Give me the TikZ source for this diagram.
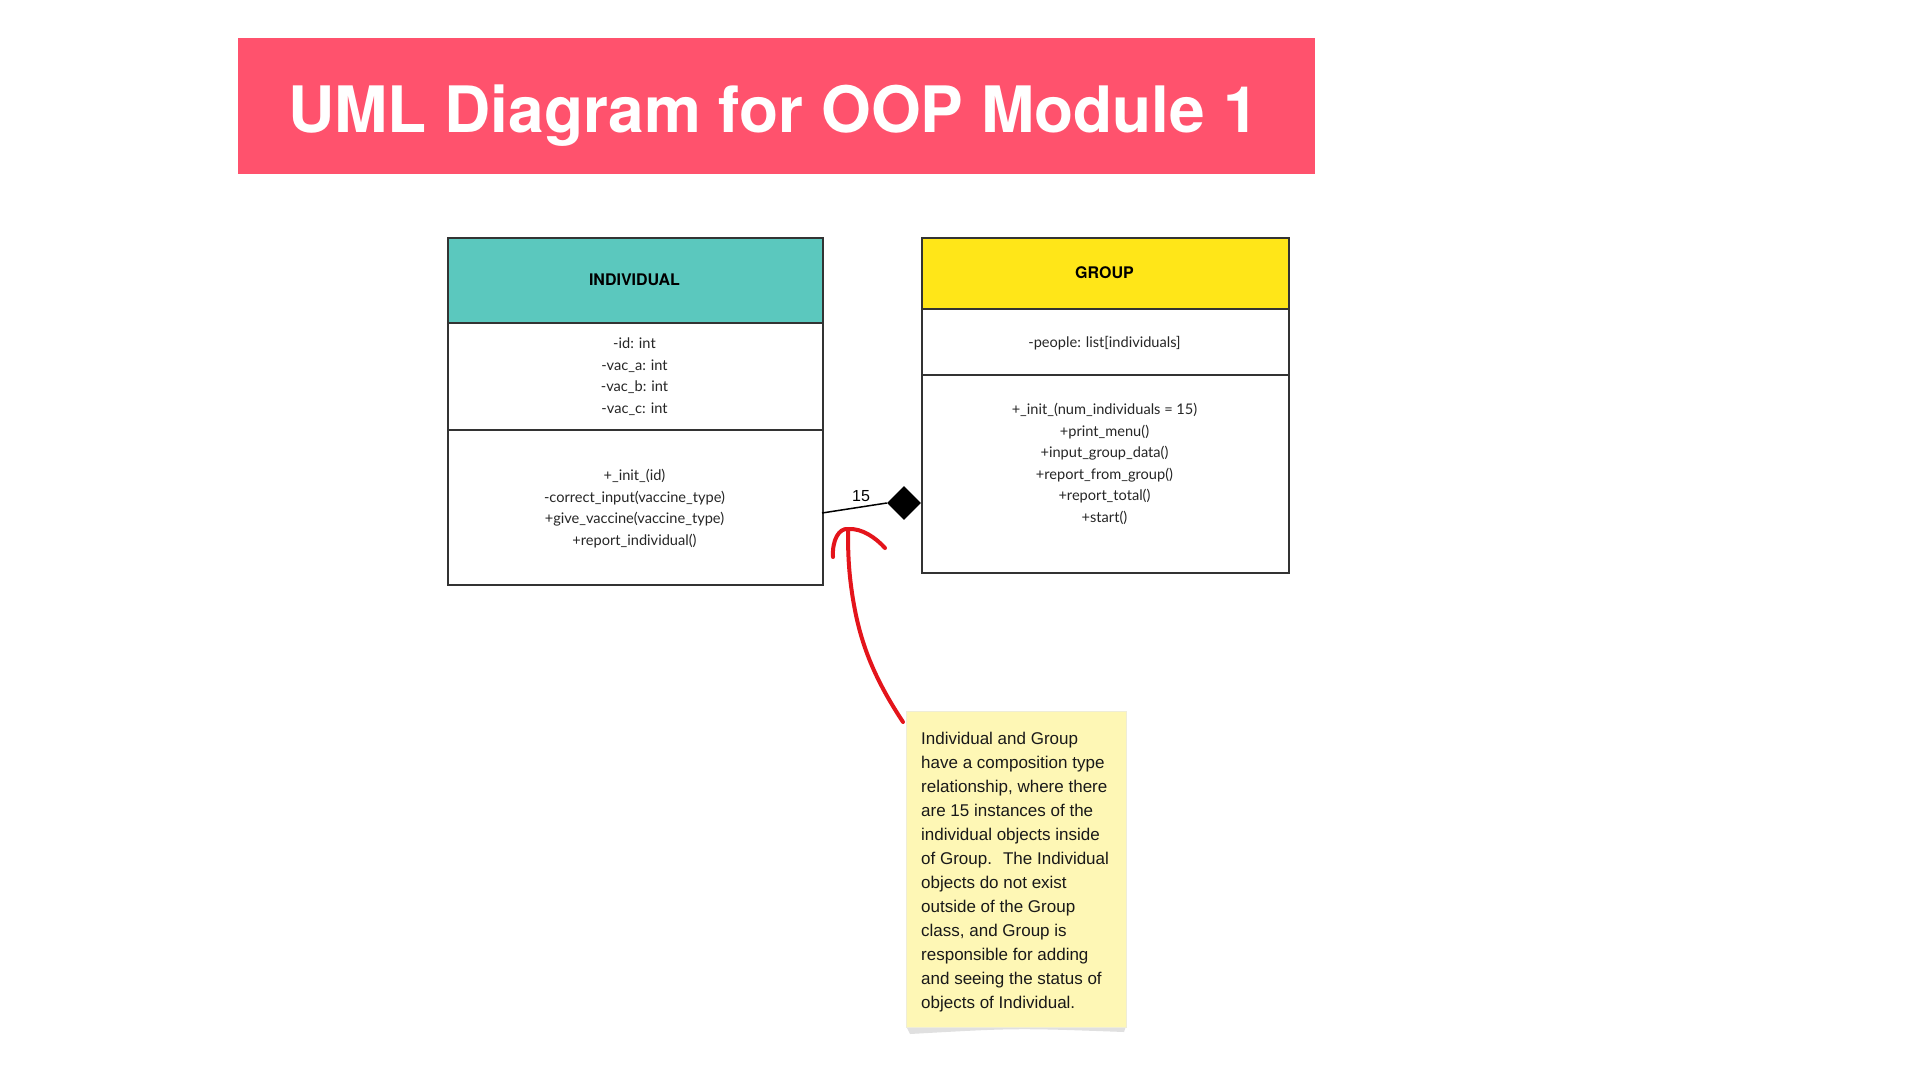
\documentclass[tikz,border=0pt]{standalone}
\usepackage{fontspec}
\setmainfont{Liberation Sans}
\newfontfamily\titlefont{TeX Gyre Heros}
\newfontfamily\bodyfont{Lato}
\usetikzlibrary{shapes.geometric}
\definecolor{bannerred}{HTML}{FF526D}
\definecolor{headteal}{HTML}{5BC8BE}
\definecolor{headyellow}{HTML}{FFE618}
\definecolor{noteyellow}{HTML}{FEF7B5}
\definecolor{arrowred}{HTML}{E4141B}
\definecolor{boxline}{HTML}{333333}
\begin{document}
\begin{tikzpicture}[x=1pt,y=-1pt,
  box/.style={draw=boxline, line width=1.5pt, rectangle, inner sep=0pt, anchor=north west},
  classname/.style={font=\titlefont\bfseries\fontsize{16}{16}\selectfont, text=black, inner sep=0pt},
  members/.style={font=\bodyfont\fontsize{14.6}{21.5}\selectfont, align=center, text=black!85, inner sep=0pt},
  redpen/.style={draw=arrowred, line width=4pt, line cap=round, line join=round}]
\useasboundingbox (0,0) rectangle (1920,1080);
\fill[white] (0,0) rectangle (1920,1080);

% title banner
\node[fill=bannerred, anchor=north west, minimum width=1077.5, minimum height=136, inner sep=0pt] (banner) at (237.5,38) {};
\node[font=\titlefont\bfseries\fontsize{64}{64}\selectfont, text=white, anchor=base, inner sep=0pt] (title) at (773.5,132) {UML Diagram for OOP Module 1};

% INDIVIDUAL class
\node[box, fill=headteal, minimum width=375, minimum height=85] (ihead) at (447,237) {};
\node[box, fill=white, minimum width=375, minimum height=107] (iattr) at (447,322) {};
\node[box, fill=white, minimum width=375, minimum height=155] (imeth) at (447,429) {};
\node[classname] (iname) at (634.5,280) {INDIVIDUAL};
\node[members] (iattrtxt) at (634.5,376.5) {-id: int\\-vac\_a: int\\-vac\_b: int\\-vac\_c: int};
\node[members] (imethtxt) at (634.5,508.5) {+\_init\_(id)\\-correct\_input(vaccine\_type)\\+give\_vaccine(vaccine\_type)\\+report\_individual()};

% GROUP class
\node[box, fill=headyellow, minimum width=367, minimum height=71] (ghead) at (921,237) {};
\node[box, fill=white, minimum width=367, minimum height=66] (gattr) at (921,308) {};
\node[box, fill=white, minimum width=367, minimum height=198] (gmeth) at (921,374) {};
\node[classname] (gname) at (1104.5,272.5) {GROUP};
\node[members] (gattrtxt) at (1104.5,343) {-people: list[individuals]};
\node[members] (gmethtxt) at (1104.5,464) {+\_init\_(num\_individuals = 15)\\+print\_menu()\\+input\_group\_data()\\+report\_from\_group()\\+report\_total()\\+start()};

% composition connector
\node[diamond, fill=black, minimum width=34, minimum height=34, inner sep=0pt] (dia) at (904,503) {};
\coordinate (lstart) at (822,513);
\draw[line width=1.5pt, black] (lstart) -- (dia.west);
\node[font=\fontsize{16}{16}\selectfont, inner sep=0pt] (mult) at (861,496) {15};

% sticky note
\fill[black!12] (906,1026) -- (1126,1026) -- (1124,1032) .. controls (1016,1028) .. (910,1034) -- cycle;
\node[fill=noteyellow, draw=noteyellow!85!black!40, line width=0.5pt, anchor=north west, minimum width=220, minimum height=316, inner sep=0pt] (note) at (906,711) {};
\node[anchor=north west, inner sep=0pt, align=left, text=black!90, font=\fontsize{17}{24}\selectfont] (notetext) at (921,732) {Individual and Group\\have a composition type\\relationship, where there\\are 15 instances of the\\individual objects inside\\of Group.~ The Individual\\objects do not exist\\outside of the Group\\class, and Group is\\responsible for adding\\and seeing the status of\\objects of Individual.};

% red hand-drawn arrow
\coordinate (astart) at (903,722);
\coordinate (atip) at (848,529);
\coordinate (hookl) at (833,557);
\coordinate (hookr) at (885,548);
\draw[redpen] (astart) .. controls (878,684) and (862,650) .. (854,605) .. controls (848,572) and (848,548) .. (atip);
\draw[redpen] (hookl) .. controls (832,540) and (839,528) .. (atip) .. controls (862,528) and (876,538) .. (hookr);
\end{tikzpicture}
\end{document}
